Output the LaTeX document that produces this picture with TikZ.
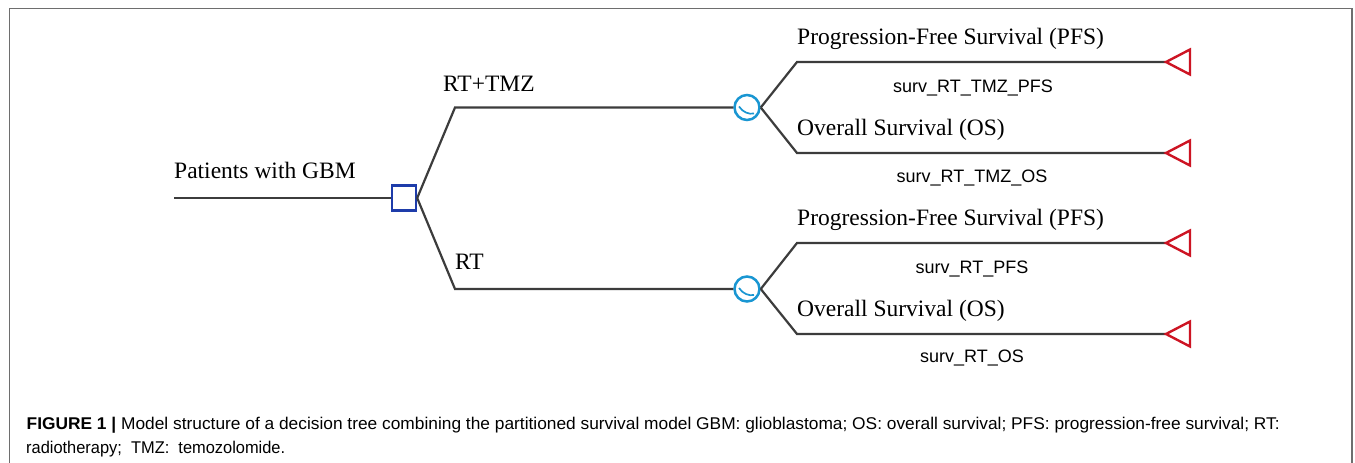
\documentclass[tikz,border=0pt]{standalone}
\usepackage{fontspec}
\usepackage{graphicx}
\setmainfont{Liberation Serif}
\newfontfamily\sansf{Liberation Sans}
\usetikzlibrary{calc}
\definecolor{edgecol}{RGB}{60,60,60}
\definecolor{decblue}{RGB}{30,60,170}
\definecolor{chblue}{RGB}{25,150,210}
\definecolor{termred}{RGB}{205,20,35}
\definecolor{framecol}{RGB}{110,110,110}
\tikzset{
  edge/.style={draw=edgecol, line width=2.2pt},
  decision/.style={draw=decblue, line width=2.4pt, fill=white, minimum width=24pt, minimum height=25pt, inner sep=0pt},
  chance/.style={draw=chblue, line width=2.5pt, fill=white, circle, minimum size=25pt, inner sep=0pt},
  term/.style={draw=termred, line width=2.4pt, line join=miter},
  lab/.style={anchor=base west, inner sep=0pt, font=\fontsize{23.5}{28}\selectfont},
  slab/.style={anchor=base, inner sep=0pt, font=\sansf\fontsize{18}{22}\selectfont},
  captext/.style={anchor=base west, inner sep=0pt, font=\sansf\fontsize{17}{20}\selectfont}
}
\newcommand{\chancemark}[1]{\draw[chblue, line width=1.7pt] ($(#1)+(-8,-1)$) .. controls ($(#1)+(-4,5)$) and ($(#1)+(2,7)$) .. ($(#1)+(7,6)$);}
\begin{document}
\begin{tikzpicture}[x=1pt,y=-1pt]
\useasboundingbox (0,0) rectangle (1355,463);
\fill[white] (0,0) rectangle (1355,463);
% frame
\draw[framecol, line width=1.2pt] (9.3,463) -- (9.3,8.7) -- (1352,8.7) -- (1352,463);

% nodes
\coordinate (root) at (174,198);
\node[decision] (d) at (404,198) {};
\node[chance] (c1) at (747,107.5) {};
\node[chance] (c2) at (747,289) {};
\chancemark{c1}
\chancemark{c2}

\coordinate (a1) at (455,107.5);
\coordinate (a2) at (455,289);
\coordinate (b1) at (797,62);
\coordinate (b2) at (797,153);
\coordinate (b3) at (797,243);
\coordinate (b4) at (797,334);
\coordinate (t1) at (1166,62);
\coordinate (t2) at (1166,153);
\coordinate (t3) at (1166,243);
\coordinate (t4) at (1166,334);

% connectors
\draw[edge] (root) -- (d.west);
\draw[edge] (d.east) -- (a1) -- (c1.west);
\draw[edge] (d.east) -- (a2) -- (c2.west);
\draw[edge] (c1.east) -- (b1) -- (t1);
\draw[edge] (c1.east) -- (b2) -- (t2);
\draw[edge] (c2.east) -- (b3) -- (t3);
\draw[edge] (c2.east) -- (b4) -- (t4);

% terminals
\foreach \t in {t1,t2,t3,t4}{
  \draw[term] (\t) -- ++(24,-12.5) -- ++(0,25) -- cycle;
}

% labels
\node[lab] (lroot) at (174,178) {Patients with GBM};
\node[lab] (l1) at (443,91) {RT+TMZ};
\node[lab] (l2) at (455,269) {RT};
\node[lab] (p1) at (797,44) {Progression-Free Survival (PFS)};
\node[lab] (o1) at (797,135) {Overall Survival (OS)};
\node[lab] (p2) at (797,225) {Progression-Free Survival (PFS)};
\node[lab] (o2) at (797,316) {Overall Survival (OS)};
\node[slab] (s1) at (973,92) {surv\_RT\_TMZ\_PFS};
\node[slab] (s2) at (972,182) {surv\_RT\_TMZ\_OS};
\node[slab] (s3) at (972,273) {surv\_RT\_PFS};
\node[slab] (s4) at (972,362) {surv\_RT\_OS};

% caption
\node[captext] (cap1) at (26.5,429) {\resizebox{1253pt}{\height}{\textbf{FIGURE 1 |} Model structure of a decision tree combining the partitioned survival model GBM: glioblastoma; OS: overall survival; PFS: progression-free survival; RT:}};
\node[captext] (cap2) at (26,453) {\resizebox{259pt}{\height}{radiotherapy;\ \ TMZ:\ \ temozolomide.}};
\end{tikzpicture}
\end{document}
